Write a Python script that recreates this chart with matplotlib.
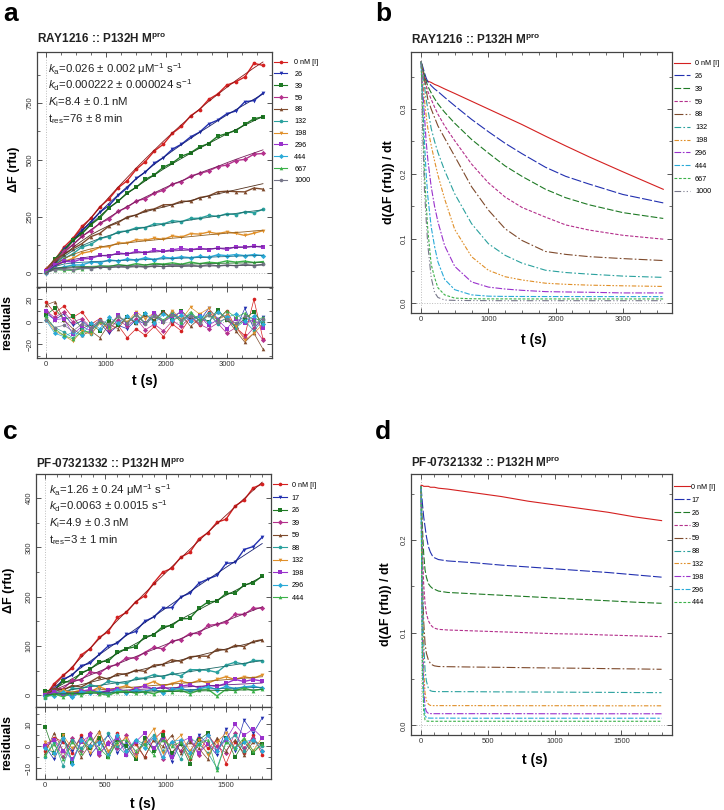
import matplotlib
matplotlib.use("Agg")
import matplotlib.pyplot as plt
from matplotlib.lines import Line2D
from matplotlib.ticker import MultipleLocator
from matplotlib.colors import to_rgb

plt.rcParams["font.family"] = ["Liberation Sans", "DejaVu Sans"]
plt.rcParams["mathtext.fontset"] = "custom"
plt.rcParams["mathtext.rm"] = "Liberation Sans"
plt.rcParams["mathtext.it"] = "Liberation Sans:italic"
plt.rcParams["mathtext.bf"] = "Liberation Sans:bold"

# ---------------- panel a : RAY1216, progress curves (rfu) ----------------
t_a = [0, 150, 300, 450, 600, 750, 900, 1050, 1200, 1350, 1500, 1650, 1800,
       1950, 2100, 2250, 2400, 2550, 2700, 2850, 3000, 3150, 3300, 3450, 3600]
labels_a = ["0 nM [I]", "26", "39", "59", "88", "132", "198", "296", "444", "667", "1000"]

fa_0 = [0, 51, 101, 150, 198, 245, 291, 336, 380, 422, 464, 504, 543, 582, 619, 655, 690, 724, 757, 788, 819, 849, 877, 905, 931]
fa_26 = [0, 52, 100, 146, 188, 230, 271, 309, 346, 382, 416, 448, 480, 510, 539, 567, 594, 621, 646, 672, 697, 721, 744, 767, 790]
fa_39 = [0, 52, 98, 141, 180, 217, 253, 288, 320, 351, 380, 407, 433, 459, 483, 506, 529, 551, 572, 593, 614, 633, 653, 672, 691]
fa_59 = [0, 47, 88, 126, 161, 193, 220, 247, 271, 295, 316, 336, 355, 374, 392, 408, 424, 442, 457, 471, 487, 502, 516, 530, 544]
fa_88 = [0, 44, 81, 114, 143, 170, 191, 211, 229, 244, 258, 271, 282, 292, 302, 312, 321, 331, 341, 350, 359, 368, 377, 386, 395]
fa_132 = [0, 42, 74, 100, 122, 139, 154, 167, 178, 187, 195, 203, 210, 217, 223, 229, 235, 241, 247, 253, 259, 264, 270, 275, 280]
fa_198 = [0, 37, 64, 83, 97, 108, 116, 123, 129, 134, 139, 143, 147, 151, 155, 158, 162, 166, 170, 173, 177, 180, 183, 187, 190]
fa_296 = [0, 33, 51, 61, 68, 74, 78, 81, 84, 87, 90, 92, 94, 97, 99, 101, 103, 106, 108, 110, 112, 114, 116, 118, 120]
fa_444 = [0, 30, 41, 46, 49, 51, 53, 55, 56, 58, 59, 61, 62, 64, 65, 67, 68, 70, 71, 73, 74, 76, 77, 78, 80]
fa_667 = [0, 23, 27, 29, 30, 31, 32, 33, 34, 35, 36, 37, 38, 39, 39.5, 40, 41, 42, 43, 44, 45, 45.5, 46, 47, 48]
fa_1000 = [0, 22, 24, 25, 25.5, 26, 26.5, 27, 27.5, 28, 28.5, 29, 29.5, 30, 30.5, 31, 31.5, 32, 32.5, 33, 34, 34.5, 35, 36, 37]

ra_0 = [18, 8, 14, 4, 9, -2, 3, -8, -3, -14, -6, -12, -4, -13, -2, -8, 4, -3, 9, 2, 10, -5, -12, 20, -15]
ra_26 = [8, 2, 7, -3, 1, -6, -1, -10, -3, -6, 2, -2, 5, 0, 8, 2, 7, 1, 12, 3, 6, -6, 12, -6, 4]
ra_39 = [6, 12, 2, 5, -6, -2, -8, 1, -3, 4, -1, 7, 1, 9, 3, 10, 2, 6, 0, 11, 2, -4, 3, 9, -2]
ra_59 = [10, 4, 9, 0, 3, -5, 1, -7, 2, -4, 3, -7, -2, -8, 1, -4, 5, -2, -6, -1, -10, -5, -14, -5, -16]
ra_88 = [15, 18, 2, -6, -12, -8, -14, -2, -6, 5, -1, 6, 2, 10, 1, 6, -4, 3, 0, 9, 3, -8, -18, -10, -24]
ra_132 = [4, -5, -9, -14, -6, -11, 0, -5, 5, 0, 6, -1, 8, 1, 9, -1, 7, 2, 8, -2, 4, -5, 1, -8, 2]
ra_198 = [3, -8, -12, -17, -8, -11, -1, -5, 5, 0, 9, 3, 8, -1, 10, 2, 13, 7, 12, 2, 6, -4, -16, -10, -2]
ra_296 = [10, 2, 3, -11, -4, -8, 1, -4, 6, -2, 7, -1, 8, 0, 5, 9, 1, 5, -3, 2, -6, 3, -1, 2, -5]
ra_444 = [2, -10, -13, -9, -12, -1, -6, 4, -1, 5, 0, 8, -1, 7, 2, 6, 1, 5, 0, 9, 4, 7, 1, 5, -2]
ra_667 = [5, -6, -12, -15, -9, -8, 1, -4, 5, -1, 7, -1, 6, 2, 7, 0, 9, 1, 6, 2, 10, 4, 8, 1, 4]
ra_1000 = [2, -5, -3, -8, -2, -5, 2, -2, 5, -1, 6, -2, 5, 0, 6, 2, 5, -1, 6, 0, 3, -1, 5, -2, 3]

# ---------------- panel b : RAY1216, rates ----------------
t_b = [0, 25, 50, 75, 100, 150, 200, 250, 350, 500, 750, 1000, 1250, 1500, 1850, 2150, 2500, 3000, 3600]
vb_0 = [0.373, 0.36, 0.35, 0.344, 0.343, 0.341, 0.338, 0.336, 0.331, 0.324, 0.312, 0.300, 0.288, 0.276, 0.258, 0.243, 0.226, 0.203, 0.176]
vb_26 = [0.373, 0.365, 0.356, 0.348, 0.342, 0.336, 0.331, 0.327, 0.318, 0.305, 0.284, 0.265, 0.247, 0.231, 0.210, 0.196, 0.184, 0.168, 0.155]
vb_39 = [0.373, 0.362, 0.352, 0.343, 0.335, 0.325, 0.316, 0.308, 0.295, 0.278, 0.253, 0.232, 0.212, 0.196, 0.176, 0.163, 0.152, 0.140, 0.131]
vb_59 = [0.373, 0.36, 0.347, 0.337, 0.327, 0.315, 0.303, 0.292, 0.274, 0.251, 0.215, 0.186, 0.164, 0.148, 0.133, 0.121, 0.113, 0.105, 0.099]
vb_88 = [0.373, 0.36, 0.345, 0.33, 0.315, 0.30, 0.287, 0.274, 0.255, 0.227, 0.18, 0.144, 0.115, 0.097, 0.080, 0.0755, 0.072, 0.069, 0.066]
vb_132 = [0.373, 0.355, 0.335, 0.315, 0.30, 0.27, 0.25, 0.233, 0.205, 0.169, 0.123, 0.092, 0.074, 0.062, 0.051, 0.0475, 0.045, 0.042, 0.040]
vb_198 = [0.373, 0.345, 0.315, 0.29, 0.27, 0.244, 0.22, 0.198, 0.161, 0.114, 0.072, 0.051, 0.041, 0.036, 0.031, 0.0293, 0.028, 0.027, 0.026]
vb_296 = [0.373, 0.33, 0.29, 0.25, 0.222, 0.18, 0.15, 0.126, 0.089, 0.057, 0.033, 0.025, 0.022, 0.020, 0.018, 0.0175, 0.017, 0.016, 0.016]
vb_444 = [0.373, 0.31, 0.25, 0.20, 0.165, 0.118, 0.088, 0.064, 0.037, 0.021, 0.013, 0.011, 0.0106, 0.0105, 0.0104, 0.0104, 0.0104, 0.0103, 0.0103]
vb_667 = [0.373, 0.29, 0.20, 0.155, 0.113, 0.06, 0.04, 0.024, 0.013, 0.008, 0.007, 0.0068, 0.0068, 0.0067, 0.0067, 0.0067, 0.0067, 0.0067, 0.0067]
vb_1000 = [0.373, 0.26, 0.175, 0.13, 0.09, 0.04, 0.017, 0.009, 0.005, 0.0045, 0.0042, 0.0041, 0.004, 0.004, 0.004, 0.004, 0.004, 0.004, 0.004]

# ---------------- panel c : PF-07321332, progress curves ----------------
t_c = [0, 75, 150, 225, 300, 375, 450, 525, 600, 675, 750, 825, 900,
       975, 1050, 1125, 1200, 1275, 1350, 1425, 1500, 1575, 1650, 1725, 1800]
labels_c = ["0 nM [I]", "17", "26", "39", "59", "88", "132", "198", "296", "444"]

fc_0 = [0, 19.4, 38.6, 57.8, 76.8, 95.7, 114.5, 133.1, 151.7, 170.1, 188.4, 206.6, 224.7, 242.6, 260.5, 278.2, 295.8, 313.3, 330.7, 348, 365.1, 382.1, 399, 415.8, 432.5]
fc_17 = [0, 15.9, 29.4, 42.7, 55.9, 69.1, 82.2, 95.2, 108.3, 121.2, 134.1, 146.8, 159.5, 172.3, 184.9, 197.5, 210, 222.4, 234.8, 247.1, 259.4, 271.5, 283.7, 295.7, 307.8]
fc_26 = [0, 12.6, 23, 33.3, 43.6, 53.9, 64, 74.2, 84.3, 94.4, 104.4, 114.4, 124.3, 134.3, 144.1, 153.9, 163.7, 173.4, 183.2, 192.8, 202.6, 212.1, 221.7, 231.1, 240.6]
fc_39 = [0, 10.4, 18.1, 25.8, 33.2, 40.9, 48.4, 55.9, 63.3, 70.8, 78.2, 85.6, 92.9, 100.3, 107.6, 114.9, 122.2, 129.4, 136.5, 143.8, 150.9, 158, 165.1, 172.2, 179.2]
fc_59 = [0, 7.5, 12.2, 16.8, 21.4, 26, 30.7, 35.2, 39.8, 44.3, 48.9, 53.4, 58, 62.5, 66.9, 71.5, 76, 80.4, 85, 89.4, 93.8, 98.3, 102.7, 107.1, 111.6]
fc_88 = [0, 5.5, 8.4, 11.2, 14.1, 17, 19.8, 22.6, 25.4, 28.2, 31, 33.8, 36.6, 39.4, 42.2, 45, 47.8, 50.6, 53.5, 56.3, 59.1, 61.8, 64.6, 67.4, 70.2]
fc_132 = [0, 3.5, 5, 6.4, 7.9, 9.4, 10.9, 12.3, 13.8, 15.3, 16.7, 18.2, 19.7, 21.2, 22.6, 24.1, 25.6, 27, 28.5, 30, 31.5, 32.9, 34.4, 35.9, 37.4]
fc_198 = [0, 2.9, 3.8, 4.8, 5.7, 6.7, 7.6, 8.6, 9.5, 10.5, 11.4, 12.4, 13.3, 14.3, 15.2, 16.2, 17.1, 18.1, 19, 20, 20.9, 21.9, 22.8, 23.8, 24.7]
fc_296 = [0, 2.3, 2.9, 3.5, 4.1, 4.7, 5.3, 5.9, 6.5, 7.1, 7.7, 8.3, 8.9, 9.5, 10.1, 10.7, 11.3, 11.9, 12.5, 13.1, 13.7, 14.3, 14.9, 15.5, 16.1]
fc_444 = [0, 2, 2.5, 3, 3.4, 3.8, 4.2, 4.6, 5, 5.4, 5.8, 6.2, 6.6, 7, 7.4, 7.8, 8.2, 8.6, 9, 9.4, 9.8, 10.2, 10.6, 11, 11.4]

rc_0 = [-2, 4, 2, -3, 5, -1, 3, -4, 6, -2, 1, -5, 3, 7, -3, 2, -6, 4, -1, 3, -8, 2, -3, 5, -4]
rc_17 = [0, -6, 3, -2, 4, -4, 1, 5, -3, 2, -5, 3, -1, 4, -7, 2, -3, 5, 1, -4, 8, -2, 12, 6, 13]
rc_26 = [9, -3, 5, -7, 2, -1, 4, -5, 3, 0, -6, 4, -2, 5, -3, 1, -8, 3, 6, -2, 4, -5, 2, -3, 1]
rc_39 = [1, 3, -5, 4, -2, 6, -4, 2, -1, 5, -3, 1, 4, -6, 2, -2, 3, -4, 5, 0, -3, 6, -1, 4, -2]
rc_59 = [-3, 6, -2, 3, -5, 1, 7, -3, 4, -2, 2, -5, 3, 0, 5, -3, 2, -1, -6, 4, -2, 3, -4, 2, 1]
rc_88 = [-5, 2, -9, 3, -1, 4, -3, 6, 0, -4, 3, 1, 5, -2, 2, -6, 4, 1, -3, -10, 2, 5, -2, 3, 0]
rc_132 = [2, -4, 5, -1, 3, -3, 6, -2, 1, 4, -5, 2, 8, -3, 1, 5, -2, 3, -4, 2, 6, -1, 3, -2, 4]
rc_198 = [0, 3, -2, -6, 2, 5, -3, 1, 4, -4, 2, 6, -1, 3, -5, 2, 4, -3, 1, -2, 3, 10, 5, 8, 4]
rc_296 = [-1, -3, 4, -8, 3, 0, 2, -4, 5, -2, 3, -1, 4, -5, 2, 3, -3, 1, 5, -2, 4, -1, 2, 3, -2]
rc_444 = [-4, 1, -6, 2, -3, 4, -1, -5, 2, 3, -2, 1, -4, 3, 0, 2, -5, 1, 3, -11, 2, -1, 4, -2, 1]

# ---------------- panel d : PF-07321332, rates ----------------
t_d = [0, 10, 20, 30, 40, 55, 70, 85, 100, 130, 200, 400, 600, 800, 1000, 1200, 1400, 1600, 1800]
vd_0 = [0.259, 0.259, 0.258, 0.258, 0.258, 0.258, 0.257, 0.257, 0.257, 0.256, 0.255, 0.251, 0.247, 0.242, 0.238, 0.234, 0.230, 0.225, 0.221]
vd_17 = [0.258, 0.24, 0.225, 0.2145, 0.204, 0.193, 0.187, 0.183, 0.181, 0.179, 0.1775, 0.1755, 0.173, 0.171, 0.169, 0.167, 0.165, 0.1625, 0.160]
vd_26 = [0.258, 0.215, 0.185, 0.168, 0.16, 0.153, 0.15, 0.148, 0.147, 0.145, 0.1435, 0.142, 0.1405, 0.139, 0.1375, 0.136, 0.1345, 0.133, 0.1318]
vd_39 = [0.258, 0.19, 0.152, 0.132, 0.121, 0.113, 0.109, 0.1065, 0.105, 0.1037, 0.103, 0.102, 0.101, 0.100, 0.099, 0.0985, 0.0975, 0.0967, 0.0958]
vd_59 = [0.258, 0.16, 0.112, 0.0887, 0.078, 0.0707, 0.067, 0.0653, 0.0643, 0.0636, 0.0634, 0.063, 0.0627, 0.0623, 0.062, 0.0617, 0.0613, 0.061, 0.0606]
vd_88 = [0.258, 0.16, 0.09, 0.06, 0.048, 0.04, 0.0375, 0.0368, 0.0366, 0.0365, 0.0365, 0.0364, 0.0362, 0.0361, 0.036, 0.0358, 0.0357, 0.0355, 0.0354]
vd_132 = [0.258, 0.13, 0.06, 0.035, 0.027, 0.023, 0.0216, 0.0214, 0.0214, 0.0214, 0.0214, 0.0214, 0.0213, 0.0213, 0.0213, 0.0213, 0.0212, 0.0212, 0.0212]
vd_198 = [0.258, 0.10, 0.04, 0.02, 0.015, 0.013, 0.0128, 0.0127, 0.0127, 0.0127, 0.0127, 0.0127, 0.0127, 0.0127, 0.0126, 0.0126, 0.0126, 0.0126, 0.0126]
vd_296 = [0.258, 0.08, 0.025, 0.011, 0.0085, 0.008, 0.0079, 0.0079, 0.0079, 0.0079, 0.0079, 0.0078, 0.0078, 0.0078, 0.0078, 0.0078, 0.0078, 0.0078, 0.0078]
vd_444 = [0.258, 0.06, 0.015, 0.006, 0.0048, 0.0046, 0.0045, 0.0045, 0.0045, 0.0045, 0.0045, 0.0045, 0.0045, 0.0045, 0.0045, 0.0045, 0.0045, 0.0045, 0.0045]

colors = ["#d42020", "#2230b0", "#1f7a25", "#b4308c", "#7e4a2c", "#2aa19e",
          "#e0902a", "#9a32cc", "#2aaad8", "#3cb24a", "#77778a"]
markers = ["o", "v", "s", "D", "^", "o", "v", "s", "D", "^", "o"]
dashes = ["-", (0, (9, 2)), (0, (6, 2)), (0, (3, 1.5)), (0, (8, 2, 1.5, 2)),
          (0, (6, 2, 1.5, 2)), (0, (4, 1.5, 1.5, 1.5, 1.5, 1.5)), (0, (6, 1.5, 1.5, 1.5)),
          (0, (5, 1.5, 2, 1.5)), (0, (2.5, 1.5)), (0, (6, 2, 1, 2, 1, 2))]


def darker(c, f=0.65):
    return tuple(v * f for v in to_rgb(c))


def px_axes(fig, left, top, right, bottom):
    return fig.add_axes([left / 724, 1 - bottom / 810, (right - left) / 724, (bottom - top) / 810])


def style(ax, xmaj, xmin, ymaj, ymin, xlim, ylim, xlabels=True):
    ax.set_xlim(*xlim)
    ax.set_ylim(*ylim)
    ax.xaxis.set_major_locator(MultipleLocator(xmaj))
    ax.xaxis.set_minor_locator(MultipleLocator(xmin))
    ax.yaxis.set_major_locator(MultipleLocator(ymaj))
    ax.yaxis.set_minor_locator(MultipleLocator(ymin))
    ax.tick_params(which="both", direction="in", top=True, right=True,
                   labelsize=5.5, labelcolor="#333333", color="#555555", pad=2.5)
    ax.tick_params(which="major", length=3.5, width=0.7)
    ax.tick_params(which="minor", length=2, width=0.6)
    ax.tick_params(axis="y", labelrotation=90)
    for lab in ax.get_yticklabels():
        lab.set_va("center")
    if not xlabels:
        ax.tick_params(axis="x", labelbottom=False)
    for s in ax.spines.values():
        s.set_color("#444444")
        s.set_linewidth(0.9)
    ax.axhline(0, color="#bbbbbb", ls=":", lw=0.7, zorder=0)
    ax.axvline(0, color="#bbbbbb", ls=":", lw=0.7, zorder=0)


def title(ax, text, y):
    ax.text(0.0, y, text, transform=ax.transAxes, ha="left", va="bottom",
            fontsize=8.5, fontweight="bold", color="#222222")


fig = plt.figure(figsize=(7.24, 8.10), dpi=100)

# ---------- a ----------
fit_a = [fa_0, fa_26, fa_39, fa_59, fa_88, fa_132, fa_198, fa_296, fa_444, fa_667, fa_1000]
res_a = [ra_0, ra_26, ra_39, ra_59, ra_88, ra_132, ra_198, ra_296, ra_444, ra_667, ra_1000]
ax_a = px_axes(fig, 37, 52, 272, 287)
ax_ar = px_axes(fig, 37, 287, 272, 358)
handles = []
for i in range(len(fit_a)):
    obs = [f + r for f, r in zip(fit_a[i], res_a[i])]
    ax_a.plot(t_a, obs, color=colors[i], marker=markers[i], ms=2.7, lw=1.0, mew=0)
    ax_a.plot(t_a, fit_a[i], color=darker(colors[i]), lw=0.6)
    ax_ar.plot(t_a, res_a[i], color=colors[i], marker=markers[i], ms=2.6, lw=0.5, mew=0)
    handles.append(Line2D([], [], color=colors[i], marker=markers[i], ms=2.6, lw=0.8, mew=0))
style(ax_a, 1000, 250, 250, 125, (-144, 3750), (-60, 975), xlabels=False)
style(ax_ar, 1000, 250, 20, 10, (-144, 3750), (-32, 31))
ax_a.legend(handles, labels_a, loc="upper left", bbox_to_anchor=(1.009, 0.97), frameon=False,
            fontsize=5.2, handlelength=1.8, handletextpad=1.0, labelspacing=0.66,
            borderpad=0, borderaxespad=0)
title(ax_a, r"RAY1216 :: P132H M$^{\mathbf{pro}}$", 1.026)
txt_a = [r"$k_{\mathrm{a}}$=0.026 ± 0.002 μM$^{\mathrm{-1}}$ s$^{\mathrm{-1}}$",
         r"$k_{\mathrm{d}}$=0.000222 ± 0.000024 s$^{\mathrm{-1}}$",
         r"$K_{\mathrm{i}}$=8.4 ± 0.1 nM",
         r"t$_{\mathrm{res}}$=76 ± 8 min"]
for j, s in enumerate(txt_a):
    ax_a.text(11 / 235, (287 - 73 - 16.3 * j) / 235, s,
              transform=ax_a.transAxes, fontsize=8.2, va="baseline", color="#222222")
ax_a.set_ylabel("ΔF (rfu)", fontsize=9, fontweight="bold")
ax_a.yaxis.set_label_coords(-0.072, 0.5)
ax_ar.set_ylabel("residuals", fontsize=9, fontweight="bold")
ax_ar.yaxis.set_label_coords(-0.102, 0.5)
ax_ar.set_xlabel("t (s)", fontsize=10, fontweight="bold")
ax_ar.xaxis.set_label_coords(0.46, -0.23)

# ---------- b ----------
rate_b = [vb_0, vb_26, vb_39, vb_59, vb_88, vb_132, vb_198, vb_296, vb_444, vb_667, vb_1000]
ax_b = px_axes(fig, 411, 52, 672, 313)
handles = []
for i in range(len(rate_b)):
    ax_b.plot(t_b, rate_b[i], color=colors[i], ls=dashes[i], lw=0.8)
    handles.append(Line2D([], [], color=colors[i], ls=dashes[i], lw=0.8))
style(ax_b, 1000, 250, 0.1, 0.05, (-150, 3730), (-0.015, 0.388))
ax_b.legend(handles, labels_a, loc="upper left", bbox_to_anchor=(1.008, 0.969), frameon=False,
            fontsize=5.2, handlelength=2.2, handletextpad=0.7, labelspacing=0.80,
            borderpad=0, borderaxespad=0)
title(ax_b, r"RAY1216 :: P132H M$^{\mathbf{pro}}$", 1.019)
ax_b.set_ylabel("d(ΔF (rfu)) / dt", fontsize=9, fontweight="bold")
ax_b.yaxis.set_label_coords(-0.061, 0.5)
ax_b.set_xlabel("t (s)", fontsize=10, fontweight="bold")
ax_b.xaxis.set_label_coords(0.47, -0.075)

# ---------- c ----------
fit_c = [fc_0, fc_17, fc_26, fc_39, fc_59, fc_88, fc_132, fc_198, fc_296, fc_444]
res_c = [rc_0, rc_17, rc_26, rc_39, rc_59, rc_88, rc_132, rc_198, rc_296, rc_444]
ax_c = px_axes(fig, 36, 474, 271, 707)
ax_cr = px_axes(fig, 36, 707, 271, 779)
handles = []
for i in range(len(fit_c)):
    obs = [f + r for f, r in zip(fit_c[i], res_c[i])]
    ax_c.plot(t_c, obs, color=colors[i], marker=markers[i], ms=2.7, lw=1.0, mew=0)
    ax_c.plot(t_c, fit_c[i], color=darker(colors[i]), lw=0.6)
    ax_cr.plot(t_c, res_c[i], color=colors[i], marker=markers[i], ms=2.6, lw=0.5, mew=0)
    handles.append(Line2D([], [], color=colors[i], marker=markers[i], ms=2.6, lw=0.8, mew=0))
style(ax_c, 500, 100, 100, 50, (-75, 1873), (-24, 449), xlabels=False)
style(ax_cr, 500, 100, 10, 5, (-75, 1873), (-15, 18))
ax_c.legend(handles, labels_c, loc="upper left", bbox_to_anchor=(1.0085, 0.966), frameon=False,
            fontsize=5.2, handlelength=2.0, handletextpad=0.6, labelspacing=0.76,
            borderpad=0, borderaxespad=0)
title(ax_c, r"PF-07321332 :: P132H M$^{\mathbf{pro}}$", 1.013)
txt_c = [r"$k_{\mathrm{a}}$=1.26 ± 0.24 μM$^{\mathrm{-1}}$ s$^{\mathrm{-1}}$",
         r"$k_{\mathrm{d}}$=0.0063 ± 0.0015 s$^{\mathrm{-1}}$",
         r"$K_{\mathrm{i}}$=4.9 ± 0.3 nM",
         r"t$_{\mathrm{res}}$=3 ± 1 min"]
for j, s in enumerate(txt_c):
    ax_c.text(13 / 235, (707 - 494 - 16.3 * j) / 233, s,
              transform=ax_c.transAxes, fontsize=8.2, va="baseline", color="#222222")
ax_c.set_ylabel("ΔF (rfu)", fontsize=9, fontweight="bold")
ax_c.yaxis.set_label_coords(-0.089, 0.5)
ax_cr.set_ylabel("residuals", fontsize=9, fontweight="bold")
ax_cr.yaxis.set_label_coords(-0.098, 0.5)
ax_cr.set_xlabel("t (s)", fontsize=10, fontweight="bold")
ax_cr.xaxis.set_label_coords(0.455, -0.25)

# ---------- d ----------
rate_d = [vd_0, vd_17, vd_26, vd_39, vd_59, vd_88, vd_132, vd_198, vd_296, vd_444]
ax_d = px_axes(fig, 411, 474, 672, 735)
handles = []
for i in range(len(rate_d)):
    ax_d.plot(t_d, rate_d[i], color=colors[i], ls=dashes[i], lw=0.8)
    handles.append(Line2D([], [], color=colors[i], ls=dashes[i], lw=0.8))
style(ax_d, 500, 100, 0.1, 0.05, (-75, 1878), (-0.0103, 0.2713))
ax_d.legend(handles, labels_c, loc="upper left", bbox_to_anchor=(1.008, 0.962), frameon=False,
            fontsize=5.2, handlelength=2.2, handletextpad=0.2, labelspacing=0.80,
            borderpad=0, borderaxespad=0)
title(ax_d, r"PF-07321332 :: P132H M$^{\mathbf{pro}}$", 1.015)
ax_d.set_ylabel("d(ΔF (rfu)) / dt", fontsize=9, fontweight="bold")
ax_d.yaxis.set_label_coords(-0.073, 0.5)
ax_d.set_xlabel("t (s)", fontsize=10, fontweight="bold")
ax_d.xaxis.set_label_coords(0.475, -0.069)

# panel letters
for lx, ly, letter in [(3, 2, "a"), (375, 2, "b"), (3, 420, "c"), (375, 420, "d")]:
    fig.text(lx / 724, 1 - ly / 810, letter, fontsize=19, fontweight="bold", va="top", ha="left")

fig.savefig("out.png", dpi=100)
